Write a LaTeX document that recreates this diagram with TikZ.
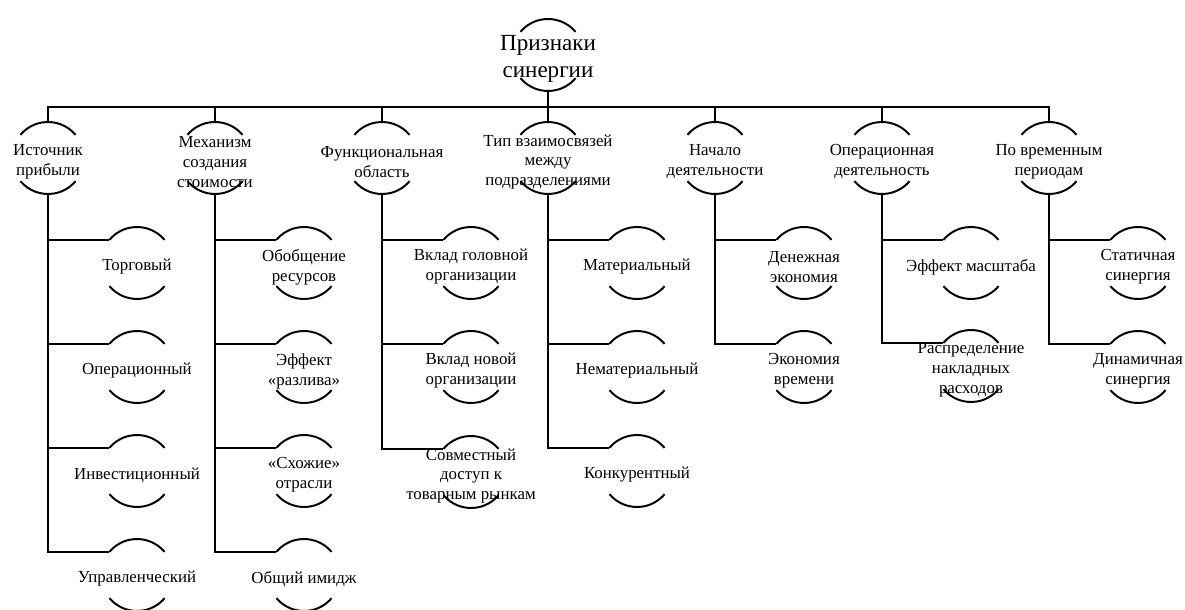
\documentclass[tikz,border=0pt]{standalone}
\usepackage{fontspec}
\setmainfont{Liberation Serif}
\usetikzlibrary{calc}

\tikzset{
  sign/.style={align=center, inner sep=0pt, font=\fontsize{12}{14.2}\selectfont},
  rootsign/.style={sign, font=\fontsize{16.4}{19.4}\selectfont},
  link/.style={line width=1.4pt},
}

% text with an arc above and an arc below it
\newcommand{\signnode}[4][sign]{%
  \node[#1] (#2) at ($(#3)+(0,-4)$) {#4};
  \draw[link] (#3) ++(40:36) arc[start angle=40, end angle=140, radius=36]
              (#3) ++(220:36) arc[start angle=220, end angle=320, radius=36];
  \coordinate (#2-n) at ($(#3)+(0,36)$);
  \coordinate (#2-s) at ($(#3)+(0,-36)$);
  \coordinate (#2-w) at ($(#3)+(140:36)$);
}

\begin{document}
\begin{tikzpicture}[x=0.025cm, y=0.025cm]
    \useasboundingbox (0,0) rectangle (1185,-610);
    % Root
    \signnode[rootsign]{root}{548,-55}{Признаки\\синергии}
    % Groups of features
    \signnode{ist}{48,-158}{Источник\\прибыли}
    \signnode{mech}{215,-158}{Механизм\\создания\\стоимости}
    \signnode{func}{382,-158}{Функциональная\\область}
    \signnode{tip}{548,-158}{Тип взаимосвязей\\между\\подразделениями}
    \signnode{nach}{715,-158}{Начало\\деятельности}
    \signnode{oper}{882,-158}{Операционная\\деятельность}
    \signnode{vrem}{1049,-158}{По временным\\периодам}
    % Source of profit
    \signnode{torg}{137,-263}{Торговый}
    \signnode{operc}{137,-367}{Операционный}
    \signnode{invest}{137,-471}{Инвестиционный}
    \signnode{uprav}{137,-575}{Управленческий}
    % Value creation
    \signnode{obob}{304,-263}{Обобщение\\ресурсов}
    \signnode{razliv}{304,-367}{Эффект\\«разлива»}
    \signnode{shozh}{304,-471}{«Схожие»\\отрасли}
    \signnode{imidzh}{304,-575}{Общий имидж}
    % Functional area
    \signnode{vklgol}{471,-263}{Вклад головной\\организации}
    \signnode{vklnov}{471,-367}{Вклад новой\\организации}
    \signnode{sovm}{471,-472}{Совместный\\доступ к\\товарным рынкам}
    % Links between divisions
    \signnode{mat}{637,-263}{Материальный}
    \signnode{nemat}{637,-367}{Нематериальный}
    \signnode{konk}{637,-471}{Конкурентный}
    % Start of activity
    \signnode{den}{804,-263}{Денежная\\экономия}
    \signnode{ekvr}{804,-367}{Экономия\\времени}
    % Operations
    \signnode{masht}{971,-263}{Эффект масштаба}
    \signnode{raspr}{971,-366}{Распределение\\накладных\\расходов}
    % Time periods
    \signnode{stat}{1138,-263}{Статичная\\синергия}
    \signnode{din}{1138,-367}{Динамичная\\синергия}
    % Bus under the root
    \draw[link] (root-s) -- ++(0,-16) coordinate (bus);
    \foreach \n in {ist,mech,func,tip,nach,oper,vrem}
      \draw[link] (bus) -| (\n-n);
    % Branches
    \foreach \p/\c in {ist/torg,ist/operc,ist/invest,ist/uprav,
                       mech/obob,mech/razliv,mech/shozh,mech/imidzh,
                       func/vklgol,func/vklnov,func/sovm,
                       tip/mat,tip/nemat,tip/konk,
                       nach/den,nach/ekvr,
                       oper/masht,oper/raspr,
                       vrem/stat,vrem/din}
      \draw[link] (\p-s) |- (\c-w);
\end{tikzpicture}
\end{document}
